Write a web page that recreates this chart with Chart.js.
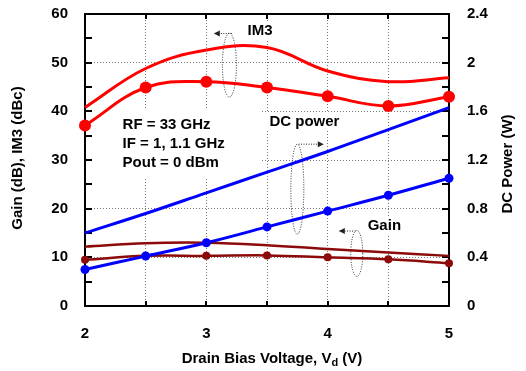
<!DOCTYPE html>
<html>
<head>
<meta charset="utf-8">
<script src="https://cdn.jsdelivr.net/npm/chart.js@4/dist/chart.umd.min.js"></script>
<style>
  html, body { margin: 0; padding: 0; background: #fff; }
  #chart { display: block; }
</style>
</head>
<body>
<canvas id="chart" width="526" height="371"></canvas>
<script>
// ─── Data ───────────────────────────────────────
const drainBias = [2, 2.5, 3, 3.5, 4, 4.5, 5];

// IM3 (dBc), two IF settings
const im3Plain = [40.8, 48.8, 52.6, 53.1, 48.3, 46.1, 46.9];
const im3Dots = [37.1, 44.9, 46.1, 44.9, 43.1, 41.1, 43.0];

// DC power (W), right axis
const dcPlain = [0.60, 0.76, 0.93, 1.10, 1.27, 1.45, 1.63];
const dcDots = [0.30, 0.41, 0.52, 0.65, 0.78, 0.91, 1.05];

// Gain (dB)
const gainPlain = [12.2, 12.9, 13.0, 12.5, 11.7, 11.0, 10.3];
const gainDots = [9.5, 10.3, 10.3, 10.4, 10.0, 9.6, 8.8];

const xTickLabels = ["2", "3", "4", "5"];
const leftTickLabels = ["0", "10", "20", "30", "40", "50", "60"];
const rightTickLabels = ["0", "0.4", "0.8", "1.2", "1.6", "2", "2.4"];

const FONT = "'Liberation Sans', Arial, Helvetica, sans-serif";
const RED = "#ff0000";
const BLUE = "#0000ff";
const MAROON = "#8c0a0a";

const pts = (ys) => drainBias.map((x, i) => ({ x, y: ys[i] }));

function series(data, color, axis, width, radius) {
	return {
		data: pts(data),
		yAxisID: axis,
		borderColor: color,
		backgroundColor: color,
		borderWidth: width,
		pointRadius: radius,
		pointBorderWidth: 0,
		pointBackgroundColor: color,
		tension: 0.4,
		clip: false,
	};
}

// ─── Helpers for the overlay drawing ────────────
function textBox(ctx, lines, x, yTop, lineH, padX, padY) {
	ctx.font = `bold 15px ${FONT}`;
	const w = Math.max(...lines.map((l) => ctx.measureText(l).width));
	ctx.fillStyle = "#fff";
	ctx.fillRect(x - padX, yTop - padY, w + padX * 2, lines.length * lineH + padY * 2);
	ctx.fillStyle = "#000";
	ctx.textAlign = "left";
	ctx.textBaseline = "middle";
	lines.forEach((l, i) => ctx.fillText(l, x, yTop + lineH * (i + 0.5)));
}

function dottedEllipse(ctx, cx, cy, rx, ry) {
	ctx.save();
	ctx.strokeStyle = "#222";
	ctx.lineWidth = 1;
	ctx.setLineDash([1, 1.5]);
	ctx.beginPath();
	ctx.ellipse(cx, cy, rx, ry, 0, 0, Math.PI * 2);
	ctx.stroke();
	ctx.restore();
}

function dottedArrow(ctx, x1, y, x2) {
	ctx.save();
	ctx.strokeStyle = "#222";
	ctx.fillStyle = "#222";
	ctx.lineWidth = 1;
	ctx.setLineDash([1, 1.5]);
	ctx.beginPath();
	ctx.moveTo(x1, y);
	ctx.lineTo(x2, y);
	ctx.stroke();
	ctx.setLineDash([]);
	const dir = x2 > x1 ? 1 : -1;
	ctx.beginPath();
	ctx.moveTo(x2 + dir * 1, y);
	ctx.lineTo(x2 - dir * 5, y - 3);
	ctx.lineTo(x2 - dir * 5, y + 3);
	ctx.closePath();
	ctx.fill();
	ctx.restore();
}

// frame, inward ticks, labels and callouts
const overlay = {
	id: "overlay",
	beforeDatasetsDraw(chart) {
		const { ctx, chartArea: a, scales } = chart;
		const { x, y, y1 } = scales;
		ctx.save();

		// text labels sit on white boxes that cover the grid
		textBox(ctx, ["RF = 33 GHz", "IF = 1, 1.1 GHz", "Pout = 0 dBm"], x.getPixelForValue(2.31), 115, 19, 36, 7);
		textBox(ctx, ["DC power"], x.getPixelForValue(3.52), 113, 17, 6, 1);
		textBox(ctx, ["IM3"], x.getPixelForValue(3.34), 22, 18, 5, 1);
		textBox(ctx, ["Gain"], x.getPixelForValue(4.33), 217, 17, 5, 1);

		// callout ellipses with direction arrows
		dottedEllipse(ctx, x.getPixelForValue(3.19), y.getPixelForValue(49.5), 7, 32);
		dottedArrow(ctx, x.getPixelForValue(3.21), y.getPixelForValue(56.0), x.getPixelForValue(3.07));
		dottedEllipse(ctx, x.getPixelForValue(3.75), y1.getPixelForValue(0.96), 6.5, 45);
		dottedArrow(ctx, x.getPixelForValue(3.76), y1.getPixelForValue(1.33), x.getPixelForValue(3.96));
		dottedEllipse(ctx, x.getPixelForValue(4.24), y.getPixelForValue(10.8), 6, 23);
		dottedArrow(ctx, x.getPixelForValue(4.23), y.getPixelForValue(15.4), x.getPixelForValue(4.1));

		// inward tick marks on all four sides
		ctx.strokeStyle = "#000";
		ctx.lineWidth = 2;
		ctx.beginPath();
		for (let v = 5; v < 60; v += 5) {
			const py = Math.round(y.getPixelForValue(v));
			ctx.moveTo(a.left, py);
			ctx.lineTo(a.left + 7, py);
		}
		for (let v = 0.2; v < 2.39; v += 0.2) {
			const py = Math.round(y1.getPixelForValue(v));
			ctx.moveTo(a.right, py);
			ctx.lineTo(a.right - 7, py);
		}
		for (let v = 2.5; v < 5; v += 0.5) {
			const px = Math.round(x.getPixelForValue(v));
			ctx.moveTo(px, a.bottom);
			ctx.lineTo(px, a.bottom - 5);
			ctx.moveTo(px, a.top);
			ctx.lineTo(px, a.top + 5);
		}
		ctx.stroke();

		// plot frame
		ctx.lineWidth = 2;
		ctx.strokeRect(a.left, a.top, a.right - a.left, a.bottom - a.top);

		// axis titles
		ctx.fillStyle = "#000";
		ctx.font = `bold 15px ${FONT}`;
		ctx.textAlign = "center";
		ctx.textBaseline = "middle";
		ctx.save();
		ctx.translate(18, 158);
		ctx.rotate(-Math.PI / 2);
		ctx.fillText("Gain (dB), IM3 (dBc)", 0, 0);
		ctx.restore();
		ctx.save();
		ctx.translate(508, 164);
		ctx.rotate(-Math.PI / 2);
		ctx.fillText("DC Power (W)", 0, 0);
		ctx.restore();

		// x title with subscript d
		const partA = "Drain Bias Voltage, V";
		const partB = "d";
		const partC = " (V)";
		ctx.textAlign = "left";
		ctx.textBaseline = "alphabetic";
		ctx.font = `bold 15px ${FONT}`;
		const wA = ctx.measureText(partA).width;
		const wC = ctx.measureText(partC).width;
		ctx.font = `bold 11px ${FONT}`;
		const wB = ctx.measureText(partB).width;
		let tx = 272 - (wA + wB + wC) / 2;
		ctx.font = `bold 15px ${FONT}`;
		ctx.fillText(partA, tx, 363);
		tx += wA;
		ctx.font = `bold 11px ${FONT}`;
		ctx.fillText(partB, tx, 366);
		tx += wB;
		ctx.font = `bold 15px ${FONT}`;
		ctx.fillText(partC, tx, 363);

		ctx.restore();
	},
};

const gridColor = (ctx, lo, hi) => {
	const v = ctx.tick && ctx.tick.value;
	return v === lo || v === hi ? "rgba(0,0,0,0)" : "#777";
};

// vertical axes: fixed width, no extra label padding above/below the plot
const fitSide = (w) => (s) => {
	s.width = w;
	s.paddingTop = 0;
	s.paddingBottom = 0;
};

new Chart(document.getElementById("chart"), {
	type: "line",
	data: {
		datasets: [
			series(im3Dots, RED, "y", 3, 6),
			series(im3Plain, RED, "y", 3, 0),
			series(dcDots, BLUE, "y1", 3, 4.5),
			series(dcPlain, BLUE, "y1", 3, 0),
			series(gainDots, MAROON, "y", 2.5, 4),
			series(gainPlain, MAROON, "y", 2.5, 0),
		],
	},
	options: {
		responsive: false,
		animation: false,
		events: [],
		layout: { padding: { top: 14, left: 0, right: 0, bottom: 0 } },
		plugins: { legend: { display: false }, tooltip: { enabled: false } },
		scales: {
			x: {
				type: "linear",
				min: 2,
				max: 5,
				afterFit: (s) => {
					s.height = 65;
					s.paddingLeft = 0;
					s.paddingRight = 0;
				},
				ticks: {
					stepSize: 0.5,
					padding: 19,
					color: "#000",
					font: { family: FONT, size: 15, weight: "bold" },
					callback: (v) => (Number.isInteger(v) ? xTickLabels[v - 2] : ""),
				},
				grid: { color: (c) => gridColor(c, 2, 5), lineWidth: 1, drawTicks: false },
				border: { display: false, dash: [1, 2] },
			},
			y: {
				position: "left",
				min: 0,
				max: 60,
				afterFit: fitSide(85),
				ticks: {
					stepSize: 10,
					padding: 17,
					color: "#000",
					font: { family: FONT, size: 15, weight: "bold" },
					callback: (v) => leftTickLabels[Math.round(v / 10)],
				},
				grid: { color: (c) => gridColor(c, 0, 60), lineWidth: 1, drawTicks: false },
				border: { display: false, dash: [1, 2] },
			},
			y1: {
				position: "right",
				min: 0,
				max: 2.4,
				afterFit: fitSide(77),
				ticks: {
					stepSize: 0.4,
					padding: 18,
					color: "#000",
					font: { family: FONT, size: 15, weight: "bold" },
					callback: (v) => rightTickLabels[Math.round(v / 0.4)],
				},
				grid: { display: false, drawTicks: false },
				border: { display: false },
			},
		},
	},
	plugins: [overlay],
});
</script>
</body>
</html>
